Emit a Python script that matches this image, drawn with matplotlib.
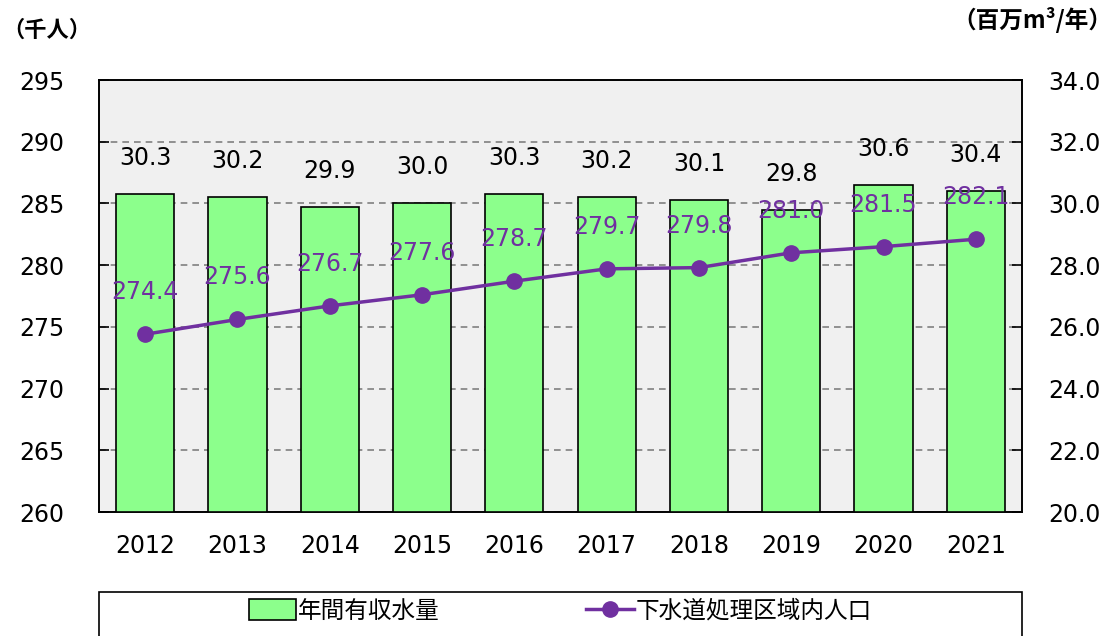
import matplotlib
matplotlib.use("Agg")
import matplotlib.pyplot as plt
from matplotlib.patches import Rectangle, Patch
from matplotlib.lines import Line2D
from matplotlib.ticker import FormatStrFormatter

plt.rcParams['font.family'] = ['DejaVu Sans', 'Noto Sans CJK JP']

years = ["2012", "2013", "2014", "2015", "2016", "2017", "2018", "2019", "2020", "2021"]
water = [30.3, 30.2, 29.9, 30.0, 30.3, 30.2, 30.1, 29.8, 30.6, 30.4]
population = [274.4, 275.6, 276.7, 277.6, 278.7, 279.7, 279.8, 281.0, 281.5, 282.1]
bar_label = "年間有収水量"
line_label = "下水道処理区域内人口"
left_unit = "（千人）"
right_unit = "（百万m³/年）"

W, H = 1115, 636
fig = plt.figure(figsize=(W/100, H/100), dpi=100)
rect = [99/W, 1-512/H, (1022-99)/W, (512-80)/H]
ax = fig.add_axes(rect)
ax2 = ax.twinx()
ax3 = ax.twinx()

x = list(range(len(years)))
ax.set_facecolor('#F0F0F0')

# grid on left axis
ax.set_ylim(260, 295)
ax.set_yticks(range(260, 296, 5))
ax.yaxis.grid(True, linestyle=(0, (4, 3)), color='#808080', linewidth=1.2)
ax.set_axisbelow(True)
ax.set_xlim(-0.5, 9.5)
ax.set_xticks(x)
ax.set_xticklabels(years)

# bars on right axis
ax2.bar(x, water, width=0.63, color='#8CFF8C', edgecolor='black', linewidth=1.2, zorder=2)
for xi, v in zip(x, water):
    ax2.annotate(f"{v:.1f}", (xi, v), xytext=(0, 36), textcoords='offset pixels',
                 ha='center', va='center', fontsize=17, color='black')
ax2.set_ylim(20, 34)
ax2.set_yticks([20, 22, 24, 26, 28, 30, 32, 34])
ax2.yaxis.set_major_formatter(FormatStrFormatter('%.1f'))
ax2.set_xlim(-0.5, 9.5)
ax2.patch.set_visible(False)

# line on left scale
ax3.set_ylim(260, 295)
ax3.set_xlim(-0.5, 9.5)
ax3.axis('off')
ax3.plot(x, population, color='#7030A0', linewidth=2.5, marker='o', markersize=11, zorder=3)
for xi, v in zip(x, population):
    ax3.annotate(f"{v:.1f}", (xi, v), xytext=(0, 42), textcoords='offset pixels',
                 ha='center', va='center', fontsize=17, color='#7030A0')

for a in (ax, ax2):
    a.tick_params(axis='both', direction='in', labelsize=17, length=7, width=1.2)
    for s in a.spines.values():
        s.set_linewidth(1.2)
        s.set_color('black')
ax.tick_params(axis='x', length=0, pad=16)
ax.tick_params(axis='y', pad=25)
ax2.tick_params(axis='y', pad=19)

fig.text(2/W, 1-30/H, left_unit, fontsize=16, fontweight='bold',
         family=['Noto Sans CJK JP', 'DejaVu Sans'], ha='left', va='center')
fig.text(1112/W, 1-20/H, right_unit, fontsize=17, fontweight='bold',
         family=['Noto Sans CJK JP', 'DejaVu Sans'], ha='right', va='center')

# legend box
fig.patches.append(Rectangle((99/W, -0.05), (1022-99)/W, (1-592/H)+0.05,
                             transform=fig.transFigure, facecolor='white',
                             edgecolor='black', linewidth=1.2))
handles = [Patch(facecolor='#8CFF8C', edgecolor='black', linewidth=1.2),
           Line2D([0], [0], color='#7030A0', linewidth=2.5, marker='o', markersize=11)]
leg = fig.legend(handles, [bar_label, line_label], loc='center', ncol=2,
                 bbox_to_anchor=((99+1022)/2/W, 1-611/H), frameon=False,
                 prop={'family': ['Noto Sans CJK JP', 'DejaVu Sans'], 'size': 17},
                 handlelength=2.0, handleheight=1.0, handletextpad=0.1, columnspacing=6.2)

fig.savefig('out.png', dpi=100)
